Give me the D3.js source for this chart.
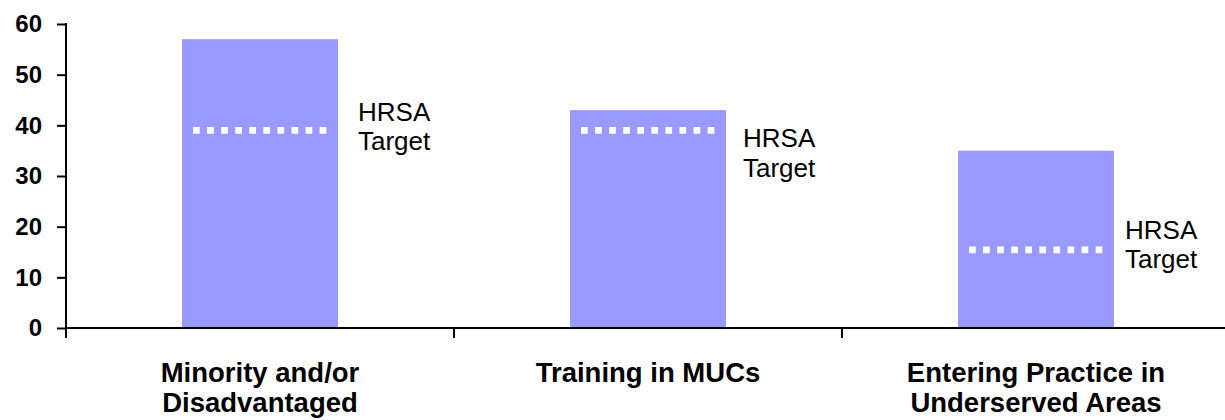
<!DOCTYPE html>
<html>
<head>
<meta charset="utf-8">
<script src="https://cdn.jsdelivr.net/npm/d3@7"></script>
<style>
  html, body { margin: 0; padding: 0; background: #fff; }
  svg { display: block; font-family: "Liberation Sans", Arial, sans-serif; }
</style>
</head>
<body>
<svg id="chart" width="1225" height="420"></svg>
<script>
const categories = [["Minority and/or", "Disadvantaged"], ["Training in MUCs"], ["Entering Practice in", "Underserved Areas"]];
const values = [57, 43, 35];
const targets = [39, 39, 15.4];
const targetLabel = ["HRSA", "Target"];
const yTicks = [0, 10, 20, 30, 40, 50, 60];

const svg = d3.select("#chart");
const keys = categories.map((c, i) => "c" + i);

const x = d3.scaleBand().domain(keys).range([66, 1230]).paddingInner(0.598).paddingOuter(0.299);
const y = d3.scaleLinear().domain([0, 60]).range([328, 24]);

// bars
svg.append("g").selectAll("rect").data(values).join("rect")
  .attr("x", (d, i) => x(keys[i]))
  .attr("y", d => y(d))
  .attr("width", x.bandwidth())
  .attr("height", d => y(0) - y(d))
  .attr("fill", "#9999FF");

// target dotted lines
const inset = 11;
svg.append("g").selectAll("line").data(targets).join("line")
  .attr("x1", (d, i) => x(keys[i]) + inset)
  .attr("x2", (d, i) => x(keys[i]) + x.bandwidth() - inset)
  .attr("y1", d => y(d)).attr("y2", d => y(d))
  .attr("stroke", "#fff").attr("stroke-width", 6.7)
  .attr("stroke-dasharray", "6.7,7.37");

// target labels (layout offsets)
const labelDx = [20, 17, 11];
const labelDy = [-9.5, 17, -11];
const lg = svg.append("g").attr("font-size", 26).attr("fill", "#000");
targets.forEach((t, i) => {
  const tx = lg.append("text")
    .attr("x", x(keys[i]) + x.bandwidth() + labelDx[i])
    .attr("y", y(t) + labelDy[i]);
  targetLabel.forEach((s, j) => {
    tx.append("tspan").attr("x", x(keys[i]) + x.bandwidth() + labelDx[i])
      .attr("dy", j === 0 ? 0 : 29.5).text(s);
  });
});

// y axis
const yAxis = d3.axisLeft(y).tickValues(yTicks).tickSize(9).tickPadding(15).tickSizeOuter(0);
const yg = svg.append("g").attr("transform", "translate(66,0)").call(yAxis);
yg.select(".domain").attr("stroke", "#000").attr("stroke-width", 2).attr("d", "M0," + (y(60) - 1) + "V" + (y(0) + 10));
yg.selectAll(".tick line").attr("stroke", "#000").attr("stroke-width", 2);
yg.selectAll(".tick text").attr("font-size", 24).attr("font-weight", "bold")
  .attr("font-family", "'Liberation Sans', Arial, sans-serif").attr("fill", "#000");

// x axis line and band-boundary ticks
const xg = svg.append("g");
xg.append("line").attr("x1", 66).attr("x2", 1230).attr("y1", y(0)).attr("y2", y(0))
  .attr("stroke", "#000").attr("stroke-width", 2);
const bounds = d3.range(keys.length + 1).map(i => x.range()[0] + i * x.step());
xg.selectAll("line.tk").data(bounds).join("line").attr("class", "tk")
  .attr("x1", d => d).attr("x2", d => d)
  .attr("y1", y(0)).attr("y2", y(0) + 10)
  .attr("stroke", "#000").attr("stroke-width", 2);

// category labels
const cg = svg.append("g").attr("font-size", 27.5).attr("font-weight", "bold").attr("text-anchor", "middle");
categories.forEach((lines, i) => {
  const cx = x(keys[i]) + x.bandwidth() / 2;
  const t = cg.append("text").attr("x", cx).attr("y", 381.5);
  lines.forEach((s, j) => t.append("tspan").attr("x", cx).attr("dy", j === 0 ? 0 : 30).text(s));
});
</script>
</body>
</html>
